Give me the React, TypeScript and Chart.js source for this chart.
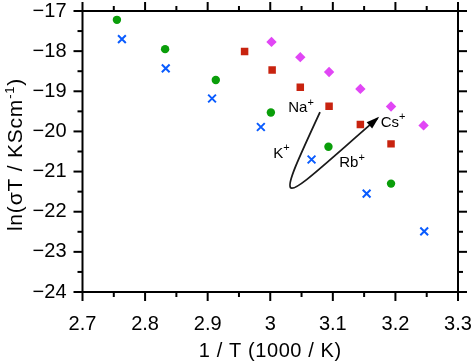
import React, { useEffect, useRef } from 'react';
import { Chart, registerables } from 'chart.js';

Chart.register(...registerables);

// ---- axes ----
const xRange = [2.7, 3.3];
const yRange = [-24, -17];
const xStep = 0.1;
const yStep = 1;

// ---- data (1/T in 1000/K, ln(sigma T)) ----
const greenX = [2.755, 2.832, 2.913, 3.001, 3.093, 3.193];
const greenY = [-17.22, -17.95, -18.72, -19.53, -20.38, -21.30];

const blueX = [2.763, 2.833, 2.907, 2.985, 3.066, 3.154, 3.246];
const blueY = [-17.70, -18.43, -19.18, -19.89, -20.70, -21.55, -22.49];

const redX = [2.959, 3.003, 3.048, 3.094, 3.144, 3.193];
const redY = [-18.01, -18.47, -18.90, -19.37, -19.83, -20.31];

const magentaX = [3.002, 3.048, 3.094, 3.144, 3.193, 3.245];
const magentaY = [-17.77, -18.15, -18.52, -18.94, -19.38, -19.85];

// ---- annotation (data coordinates) ----
const curveX = [3.0795, 2.9996, 3.0119, 3.1717];
const curveY = [-19.52, -22.21, -21.83, -19.67];
const ionLabels = ['Na', 'K', 'Rb', 'Cs'];
const ionLabelX = [3.0492, 3.018, 3.1307, 3.1962];
const ionLabelY = [-19.37, -20.51, -20.74, -19.74];

const xTitle = '1 / T (1000 / K)';
const yTitleMain = 'ln(\u03C3T / KScm';
const yTitleSup = '-1';
const yTitleEnd = ')';

const FONT = '"Liberation Sans", Arial, sans-serif';

const toPts = (xs: number[], ys: number[]) => xs.map((v, i) => ({ x: v, y: ys[i] }));

const framePlugin = {
  id: 'frameTicks',
  afterDraw(chart: any) {
    const { ctx, chartArea: a, scales } = chart;
    const x = scales.x;
    const y = scales.y;
    ctx.save();
    ctx.strokeStyle = '#000';
    ctx.fillStyle = '#000';
    ctx.lineWidth = 2;
    ctx.lineCap = 'butt';
    const line = (x1: number, y1: number, x2: number, y2: number) => {
      ctx.beginPath();
      ctx.moveTo(x1, y1);
      ctx.lineTo(x2, y2);
      ctx.stroke();
    };
    // frame
    ctx.strokeRect(a.left, a.top, a.right - a.left, a.bottom - a.top);
    // x ticks (major + minor)
    const nx = Math.round((xRange[1] - xRange[0]) / (xStep / 2));
    for (let i = 0; i <= nx; i++) {
      const v = xRange[0] + (i * xStep) / 2;
      const px = x.getPixelForValue(v);
      const len = i % 2 === 0 ? 9 : 5;
      line(px, a.bottom, px, a.bottom + len);
      line(px, a.top, px, a.top - len);
    }
    const ny = Math.round((yRange[1] - yRange[0]) / (yStep / 2));
    for (let i = 0; i <= ny; i++) {
      const v = yRange[0] + (i * yStep) / 2;
      const py = y.getPixelForValue(v);
      const len = i % 2 === 0 ? 9 : 5;
      line(a.left, py, a.left - len, py);
      line(a.right, py, a.right + len, py);
    }

    // annotation curve with arrow
    const P = curveX.map((v, i) => [x.getPixelForValue(v), y.getPixelForValue(curveY[i])]);
    ctx.strokeStyle = '#1a1a1a';
    ctx.lineWidth = 1.8;
    ctx.beginPath();
    ctx.moveTo(P[0][0], P[0][1]);
    ctx.bezierCurveTo(P[1][0], P[1][1], P[2][0], P[2][1], P[3][0], P[3][1]);
    ctx.stroke();
    const dx = P[3][0] - P[2][0];
    const dy = P[3][1] - P[2][1];
    const d = Math.hypot(dx, dy);
    const ux = dx / d, uy = dy / d;
    const L = 11, W = 4.2;
    ctx.fillStyle = '#000';
    ctx.beginPath();
    ctx.moveTo(P[3][0] + ux * 2, P[3][1] + uy * 2);
    ctx.lineTo(P[3][0] - ux * L - uy * W, P[3][1] - uy * L + ux * W);
    ctx.lineTo(P[3][0] - ux * L + uy * W, P[3][1] - uy * L - ux * W);
    ctx.closePath();
    ctx.fill();

    // ion labels
    ionLabels.forEach((t, i) => {
      const cx = x.getPixelForValue(ionLabelX[i]);
      const cy = y.getPixelForValue(ionLabelY[i]);
      ctx.font = `15px ${FONT}`;
      const w1 = ctx.measureText(t).width;
      ctx.font = `11px ${FONT}`;
      const w2 = ctx.measureText('+').width;
      const left = cx - (w1 + w2) / 2;
      ctx.textBaseline = 'alphabetic';
      ctx.textAlign = 'left';
      ctx.font = `15px ${FONT}`;
      ctx.fillText(t, left, cy + 6);
      ctx.font = `11px ${FONT}`;
      ctx.fillText('+', left + w1, cy - 0.5);
    });

    // x title
    ctx.font = `20px ${FONT}`;
    (ctx as any).letterSpacing = '0.6px';
    ctx.textAlign = 'center';
    ctx.textBaseline = 'alphabetic';
    ctx.fillText(xTitle, (a.left + a.right) / 2, 357);

    // y title rotated
    ctx.save();
    ctx.translate(22, (a.top + a.bottom) / 2 + 3);
    ctx.rotate(-Math.PI / 2);
    (ctx as any).letterSpacing = '0.8px';
    ctx.font = `21px ${FONT}`;
    const m1 = ctx.measureText(yTitleMain).width;
    const m3 = ctx.measureText(yTitleEnd).width;
    ctx.font = `13px ${FONT}`;
    const m2 = ctx.measureText(yTitleSup).width;
    const start = -(m1 + m2 + m3) / 2;
    ctx.textAlign = 'left';
    ctx.textBaseline = 'alphabetic';
    ctx.font = `21px ${FONT}`;
    ctx.fillText(yTitleMain, start, 0);
    ctx.fillText(yTitleEnd, start + m1 + m2, 0);
    ctx.font = `13px ${FONT}`;
    ctx.fillText(yTitleSup, start + m1, -8);
    ctx.restore();

    ctx.restore();
  },
};

export default function App() {
  const ref = useRef<HTMLCanvasElement | null>(null);
  useEffect(() => {
    if (!ref.current) return;
    const chart = new Chart(ref.current, {
      type: 'scatter',
      data: {
        datasets: [
          {
            data: toPts(greenX, greenY),
            pointStyle: 'circle',
            pointRadius: 4.2,
            backgroundColor: '#0a9e0a',
            borderColor: '#0a9e0a',
            borderWidth: 0,
          },
          {
            data: toPts(blueX, blueY),
            pointStyle: 'crossRot',
            pointRadius: 5.5,
            backgroundColor: '#0a5cff',
            borderColor: '#0a5cff',
            borderWidth: 2,
          },
          {
            data: toPts(redX, redY),
            pointStyle: 'rect',
            pointRadius: 5.3,
            backgroundColor: '#c8230f',
            borderColor: '#c8230f',
            borderWidth: 0,
          },
          {
            data: toPts(magentaX, magentaY),
            pointStyle: 'rectRot',
            pointRadius: 5.2,
            backgroundColor: '#e146f5',
            borderColor: '#e146f5',
            borderWidth: 0,
          },
        ],
      },
      options: {
        responsive: false,
        animation: false,
        events: [],
        layout: { padding: 0 },
        plugins: { legend: { display: false }, tooltip: { enabled: false }, title: { display: false } },
        scales: {
          x: {
            type: 'linear',
            min: xRange[0],
            max: xRange[1],
            afterFit: (s: any) => {
              s.height = 72;
              s.paddingLeft = 0;
              s.paddingRight = 14;
            },
            afterBuildTicks: (s: any) => {
              const t = [];
              const n = Math.round((xRange[1] - xRange[0]) / xStep);
              for (let i = 0; i <= n; i++) t.push({ value: xRange[0] + i * xStep });
              s.ticks = t;
            },
            grid: { display: false, drawTicks: false },
            border: { display: false },
            ticks: {
              color: '#000',
              font: { family: FONT, size: 20 },
              padding: 20,
              maxRotation: 0,
              autoSkip: false,
              callback: (v: any) => String(Number(Number(v).toFixed(1))),
            },
          },
          y: {
            type: 'linear',
            min: yRange[0],
            max: yRange[1],
            afterFit: (s: any) => {
              s.width = 82.5;
              s.paddingTop = 11;
              s.paddingBottom = 0;
            },
            afterBuildTicks: (s: any) => {
              const t = [];
              for (let v = yRange[0]; v <= yRange[1]; v += yStep) t.push({ value: v });
              s.ticks = t;
            },
            grid: { display: false, drawTicks: false },
            border: { display: false },
            ticks: {
              color: '#000',
              font: { family: FONT, size: 20 },
              padding: 16,
              autoSkip: false,
              callback: (v: any) => (Number(v) < 0 ? '\u2212' + Math.abs(Number(v)) : String(v)),
            },
          },
        },
      },
      plugins: [framePlugin],
    });
    return () => chart.destroy();
  }, []);
  return (
    <div style={{ position: 'absolute', left: 0, top: 0, width: 472, height: 364, background: '#fff' }}>
      <canvas ref={ref} width={472} height={364} style={{ display: 'block' }} />
    </div>
  );
}
